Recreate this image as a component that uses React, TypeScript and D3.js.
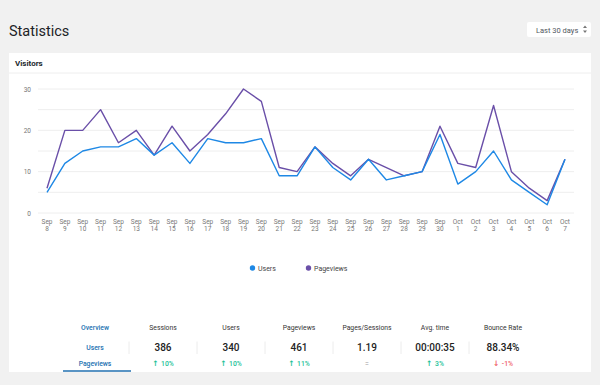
import * as d3 from "d3";

const months = ["Sep","Sep","Sep","Sep","Sep","Sep","Sep","Sep","Sep","Sep","Sep","Sep","Sep","Sep","Sep","Sep","Sep","Sep","Sep","Sep","Sep","Sep","Sep","Oct","Oct","Oct","Oct","Oct","Oct","Oct"];
const days = [8,9,10,11,12,13,14,15,16,17,18,19,20,21,22,23,24,25,26,27,28,29,30,1,2,3,4,5,6,7];
const users = [5,12,15,16,16,18,14,17,12,18,17,17,18,9,9,16,11,8,13,8,9,10,19,7,10,15,8,5,2,13];
const pageviews = [6,20,20,25,17,20,14,21,15,19,24,30,27,11,10,16,12,9,13,11,9,10,21,12,11,26,10,6,3,13];

const columns = ["Overview","Sessions","Users","Pageviews","Pages/Sessions","Avg. time","Bounce Rate"];
const totals = ["", "386", "340", "461", "1.19", "00:00:35", "88.34%"];
const changes = ["", "10%", "10%", "11%", "=", "3%", "-1%"];
const changeDir = ["", "up", "up", "up", "flat", "up", "down"];

const USERS_COLOR = "#1e88e5";
const PV_COLOR = "#6a4fa8";
const FONT = "Roboto, 'Noto Sans', sans-serif";

export default function App() {
  const width = 600;
  const height = 385;
  const x = d3.scaleLinear().domain([0, days.length - 1]).range([47, 565]);
  const y = d3.scaleLinear().domain([0, 30]).range([213, 89]);
  const gridTicks = d3.range(0, 31, 5);

  const line = (vals: number[]) =>
    d3.line<number>().x((_, i) => x(i)).y((d) => y(d))(vals) as string;

  const col = d3.scalePoint<string>().domain(columns).range([95, 503]);
  const step = col.step();
  const changeColor = (d: string) => (d === "up" ? "#22c197" : d === "down" ? "#f0646c" : "#9a9a9a");
  const arrow = (d: string) => (d === "up" ? "↑ " : d === "down" ? "↓ " : "");

  return (
    <div style={{ position: "fixed", left: 0, top: 0, width, height, background: "#f1f1f1" }}>
      <svg width={width} height={height} style={{ display: "block", fontFamily: FONT }}>
        <rect width={width} height={height} fill="#f1f1f1" />
        <text x={9} y={35.5} fontSize={14.5} fill="#1d2327">Statistics</text>

        <rect x={527} y={22} width={64} height={15} rx={2} fill="#fff" />
        <text x={536} y={32.5} fontSize={7.5} fill="#50575e">Last 30 days</text>
        <path d="M583,28 l2,-2.5 l2,2.5 z M583,30.5 l2,2.5 l2,-2.5 z" fill="#777" />

        <rect x={9} y={53} width={582} height={319} fill="#fff" />
        <line x1={9} x2={591} y1={73} y2={73} stroke="#eeeeee" />
        <text x={15} y={66} fontSize={8} fontWeight={700} fill="#23282d">Visitors</text>

        {gridTicks.map((t) => (
          <g key={t}>
            <line x1={38} x2={574} y1={y(t)} y2={y(t)} stroke="#eeeeee" strokeWidth={1} />
            {t % 10 === 0 && (
              <text x={31} y={y(t) + 2.5} fontSize={6.5} textAnchor="end" fill="#777">{t}</text>
            )}
          </g>
        ))}

        {days.map((d, i) => (
          <g key={i} fontSize={6.5} fill="#777" textAnchor="middle">
            <text x={x(i)} y={223.5}>{months[i]}</text>
            <text x={x(i)} y={231}>{d}</text>
          </g>
        ))}

        <path d={line(pageviews)} fill="none" stroke={PV_COLOR} strokeWidth={1.4} strokeLinejoin="round" />
        <path d={line(users)} fill="none" stroke={USERS_COLOR} strokeWidth={1.4} strokeLinejoin="round" />

        <circle cx={252.5} cy={268} r={2.7} fill={USERS_COLOR} />
        <text x={258} y={270.5} fontSize={7} fill="#444">Users</text>
        <circle cx={308.5} cy={268} r={2.7} fill={PV_COLOR} />
        <text x={314} y={270.5} fontSize={7} fill="#444">Pageviews</text>

        {columns.map((c, i) => (
          <g key={c} textAnchor="middle">
            <text x={col(c)} y={330} fontSize={6.8} fill={i === 0 ? "#2271b1" : "#333"} fontWeight={i === 0 ? 500 : 400}>{c}</text>
            {i > 0 && (
              <>
                <text x={col(c)} y={350.5} fontSize={10} fontWeight={500} fill="#222">{totals[i]}</text>
                <text x={col(c)} y={365.5} fontSize={6.8} fontWeight={500} fill={changeColor(changeDir[i])}>
                  <tspan fontFamily="'DejaVu Sans', sans-serif" fontWeight={700} fontSize={7.5}>{arrow(changeDir[i])}</tspan>
                  {changes[i]}
                </text>
              </>
            )}
            {i < columns.length - 1 && (
              <line x1={(col(c) as number) + step / 2} x2={(col(c) as number) + step / 2} y1={341.5} y2={354} stroke="#ececec" />
            )}
          </g>
        ))}
        <text x={col("Overview")} y={349.5} fontSize={6.8} textAnchor="middle" fill="#2271b1" fontWeight={500}>Users</text>
        <text x={col("Overview")} y={365.5} fontSize={6.8} textAnchor="middle" fill="#2271b1" fontWeight={500}>Pageviews</text>
        <line x1={63} x2={131} y1={371} y2={371} stroke="#2271b1" strokeWidth={1.5} />
      </svg>
    </div>
  );
}
